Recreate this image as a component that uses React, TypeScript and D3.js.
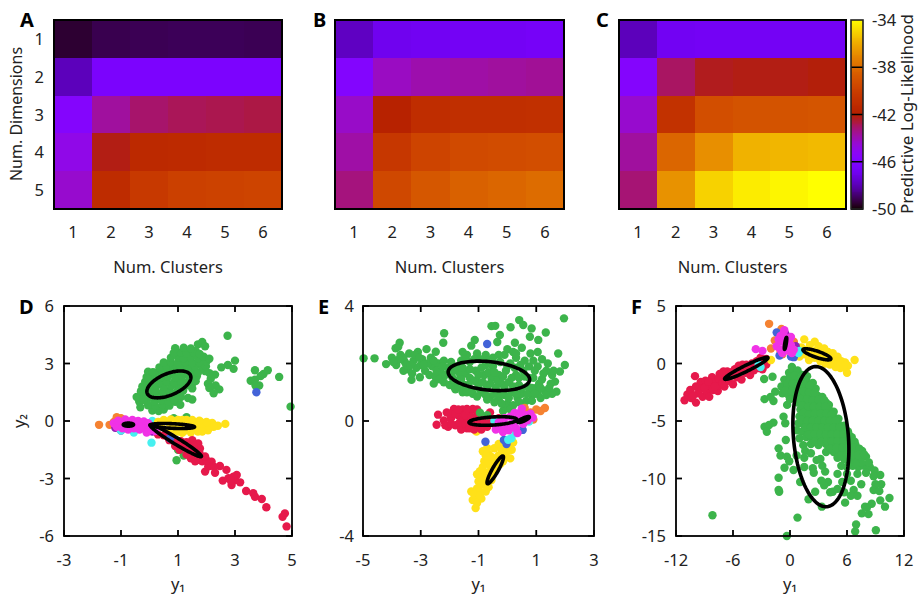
import React from "react";
import * as d3 from "d3";

type P = [number, number];

const clusterLabels = ["1", "2", "3", "4", "5", "6"];
const dimensionLabels = ["1", "2", "3", "4", "5"];

const heatA = [
  [-49.5, -49.2, -49.15, -49.1, -49.1, -49.15],
  [-47.9, -46.3, -46.2, -46.2, -46.2, -46.2],
  [-45.7, -43.7, -43.1, -42.9, -42.8, -42.7],
  [-44.9, -42.2, -41.3, -41.2, -41.1, -41.1],
  [-44.4, -41.1, -40.3, -39.9, -39.8, -39.7],
];
const heatB = [
  [-47.8, -46.9, -46.8, -46.7, -46.7, -46.6],
  [-45.8, -44.2, -43.9, -43.8, -43.7, -43.6],
  [-44.3, -41.8, -41.0, -40.9, -40.9, -40.8],
  [-43.8, -40.4, -39.7, -39.4, -39.3, -39.2],
  [-43.3, -39.5, -38.8, -38.4, -38.2, -38.0],
];
const heatC = [
  [-47.9, -46.8, -46.7, -46.7, -46.7, -46.7],
  [-45.7, -43.0, -42.3, -42.2, -42.2, -42.1],
  [-44.4, -40.7, -39.2, -39.0, -39.0, -38.9],
  [-43.7, -38.2, -36.8, -35.8, -35.7, -35.6],
  [-43.2, -36.7, -35.0, -34.4, -34.2, -34.0],
];
const colorbarLabels = [-34, -38, -42, -46, -50];

const greenD: P[] = [
  [2.74,4.45],[1.7,4.0],[1.85,4.12],[1.95,3.9],[1.62,3.65],[3.0,3.15],[2.95,2.72],[2.75,2.92],[2.52,2.8],[2.3,2.42],[2.1,2.5],[2.15,2.2],[2.05,1.95],[2.32,1.85],[2.1,1.72],[2.45,1.65],[2.25,1.45],[1.5,1.7],[1.35,1.2],[1.5,1.12],[1.1,1.25],[0.9,1.0],[1.08,0.85],
  [3.55,2.1],[3.7,2.65],[3.7,2.15],[3.9,2.35],[4.0,2.45],[4.15,2.65],[3.85,1.85],[3.72,1.85],[4.55,2.3],[4.95,0.75],[0.95,-2.05],[1.2,-1.8],[1.0,-1.5],[1.3,0.2],[0.85,0.15],
  [0.1,0.55],[0.32,0.52],[0.5,0.6],[-0.32,0.72],[-0.05,0.82],[0.2,0.78],[0.46,0.84],[0.7,0.8],[-0.36,1.02],[-0.1,1.08],[0.17,1.03],[0.41,1.08],[0.66,1.02],[0.86,1.12],
  [-0.45,1.25],[-0.2,1.32],[0.06,1.28],[0.3,1.34],[0.56,1.28],[0.8,1.35],[1.03,1.32],[-0.3,1.55],[-0.05,1.52],[0.2,1.58],[0.46,1.52],[0.7,1.58],[0.95,1.52],[1.18,1.58],
  [-0.25,1.8],[0.02,1.78],[0.25,1.84],[0.5,1.78],[0.76,1.84],[1.0,1.78],[1.25,1.83],[1.5,1.95],[-0.15,2.05],[0.1,2.08],[0.35,2.02],[0.6,2.07],[0.86,2.02],[1.1,2.08],[1.35,2.03],[1.62,2.08],
  [-0.1,2.3],[0.15,2.33],[0.4,2.28],[0.65,2.32],[0.9,2.28],[1.15,2.33],[1.4,2.28],[1.66,2.33],[-0.05,2.57],[0.2,2.52],[0.45,2.58],[0.7,2.53],[0.95,2.58],[1.2,2.53],[1.46,2.58],[1.7,2.52],[1.96,2.6],
  [0.35,2.8],[0.6,2.83],[0.86,2.78],[1.1,2.83],[1.35,2.78],[1.6,2.83],[1.85,2.8],[1.98,2.85],[0.5,3.05],[0.75,3.08],[1.0,3.03],[1.25,3.08],[1.5,3.03],[1.75,3.08],[2.0,3.1],
  [0.75,3.3],[1.0,3.34],[1.2,3.28],[1.45,3.33],[1.7,3.28],[1.9,3.36],[2.1,3.25],[0.85,3.55],[1.1,3.58],[1.3,3.52],[1.55,3.56],[1.76,3.5],[0.9,3.8],[1.2,3.82],[1.45,3.78],[0.12,2.55],[-0.05,2.2],[-0.2,1.1],
];
const redD: P[] = [
  [4.1,-4.5],[3.94,-4.07],[3.64,-3.77],[3.7,-3.95],[3.39,-3.65],[4.75,-4.82],[4.67,-5.0],[4.81,-5.5],[3.18,-3.2],[3.0,-3.08],[2.88,-3.34],[3.06,-2.82],[2.7,-2.55],[2.57,-3.11],[2.77,-2.99],[2.47,-2.35],[2.3,-2.7],[2.18,-2.12],[1.95,-2.64],[2.06,-2.38],[2.27,-2.4],[2.95,-2.9],[2.85,-3.1],
  [1.77,-2.03],[1.71,-1.17],[1.77,-1.43],[1.5,-1.0],[1.55,-1.3],[1.4,-1.55],[1.2,-1.3],[1.1,-1.05],[0.9,-1.0],[0.7,-0.8],[0.5,-0.75],[0.3,-0.7],[0.9,-1.3],[1.3,-1.75],[1.55,-1.7],[1.65,-1.95],[1.85,-2.1],[2.0,-2.05],[1.45,-1.95],[1.6,-2.1],[1.95,-1.85],[1.75,-1.65],[1.05,-1.5],[0.95,-1.2],[0.7,-1.0],[1.3,-1.1],
];
const yellowD: P[] = [
  [2.66,-0.15],[2.4,-0.25],[2.2,-0.1],[2.1,-0.35],[2.25,-0.3],[2.0,-0.15],[1.95,-0.4],[1.8,-0.05],[1.8,-0.3],[1.65,-0.45],[1.6,-0.15],[1.5,0.05],[1.45,-0.35],[1.3,-0.1],[1.25,-0.5],[1.15,0.05],[1.05,-0.25],[1.0,-0.55],[0.9,0.0],[0.8,-0.35],[0.7,-0.1],[0.6,-0.5],[0.5,0.05],[0.4,-0.25],[0.3,-0.05],[0.2,-0.3],[1.45,-0.6],[1.7,-0.55],[1.9,-0.25],[2.0,-0.05],
  [1.0,0.06],[0.75,0.08],[1.3,0.06],[1.75,0.02],[2.05,-0.48],[1.85,-0.55],[1.15,-0.62],[0.85,-0.58],
];
const orangeD: P[] = [[-1.77,-0.2],[-1.4,-0.2],[-1.25,-0.05],[-1.15,0.2],[-1.0,0.15],[-1.05,-0.1]];
const purpleD: P[] = [[-1.2,-0.35],[-1.0,-0.5],[0.1,-0.55]];
const cyanD: P[] = [[0.07,-1.13],[-1.0,-0.5],[-0.55,-0.6],[0.1,0.0],[-0.1,-0.55]];
const blueD: P[] = [[3.75,1.5],[0.72,-0.9]];
const magentaD: P[] = [
  [-1.25,-0.12],[-1.15,-0.3],[-1.1,0.02],[-0.95,-0.38],[-0.85,0.08],[-0.75,-0.45],[-0.65,-0.1],[-0.6,0.06],[-0.55,-0.38],[-0.45,-0.08],[-0.4,0.0],[-0.35,-0.45],[-0.25,-0.22],[-0.2,-0.02],[-0.1,-0.35],[-0.05,-0.12],[0.0,-0.5],[0.1,-0.3],[0.2,-0.52],[-0.85,-0.12],[-0.6,-0.25],[-0.3,-0.3],[-0.1,-0.6],
];
const ellipsesD = [
  { c: [0.68, 1.91], a: [0.76, 0.47], b: [0.14, -0.52] },
  { c: [-0.74, -0.19], a: [0.18, 0], b: [0, -0.08] },
  { c: [0.8, -0.26], a: [0.78, -0.05], b: [0.0, -0.12] },
  { c: [0.92, -1.03], a: [0.9, -0.82], b: [-0.06, -0.14] },
];

const greenE: P[] = [
  [-4.98,2.18],[-4.6,2.18],[-4.2,1.98],[-3.87,2.53],[-3.73,2.72],[-3.78,2.58],[-3.32,1.43],[-3.03,1.52],[-2.19,3.05],[-2.22,2.72],[-2.48,2.41],[1.96,3.57],[0.41,3.51],[0.55,3.34],[0.84,3.22],[1.33,3.08],[0.11,3.26],[-0.55,3.3],[-0.42,3.31],[-0.26,2.99],[0.78,2.93],[1.07,2.82],[0.26,2.72],[-1.13,2.82],[-1.25,2.62],[1.76,2.35],[1.99,1.95],[1.82,1.72],[1.7,1.02],[1.65,1.37],[-0.35,2.75],[0.0,2.5],[0.2,2.4],[0.5,2.55],[0.3,2.2],[0.8,2.35],[1.05,2.4],[-0.5,2.2],[-0.75,2.3],[-1.05,2.35],[-1.4,2.3],[-1.55,2.4],
  [-4.0,2.2],[-3.85,1.95],[-3.7,2.3],[-3.55,2.05],[-3.45,1.8],[-3.4,2.35],[-3.25,2.1],[-3.15,1.85],[-3.1,2.4],[-2.95,2.15],[-2.85,1.75],[-2.8,2.5],[-2.65,2.2],[-2.6,1.9],[-2.5,1.55],[-2.4,2.0],[-2.3,1.7],[-2.2,1.35],[-2.2,2.1],[-2.05,1.85],[-2.0,1.25],[-3.6,1.75],[-3.3,1.65],[-2.7,1.6],[-3.6,2.2],[-3.2,2.3],[-3.0,1.95],[-2.75,2.0],[-2.45,1.75],[-2.55,1.3],[-2.35,1.45],[-2.15,1.6],
  [-3.75,2.15],[-3.95,2.05],[-3.5,1.95],[-3.35,1.95],[-3.05,2.2],[-2.9,1.95],[-2.55,2.1],[-2.25,1.9],[-1.95,1.7],[-1.85,1.2],[-1.95,2.05],[-1.8,1.1],[-1.65,1.65],
  [-1.9,1.5],[-1.75,1.9],[-1.7,1.2],[-1.6,2.1],[-1.55,1.0],[-1.45,1.65],[-1.35,1.25],[-1.3,2.05],[-1.2,0.95],[-1.1,1.75],[-1.05,1.35],[-0.95,2.15],[-0.9,1.0],[-0.8,1.6],[-0.75,1.95],[-0.7,1.2],[-0.6,0.85],[-0.55,1.5],[-0.5,1.9],[-0.4,1.15],[-0.3,0.75],[-0.3,1.6],[-0.25,2.05],[-0.2,1.3],[-0.1,0.9],[-0.05,1.75],[0.0,0.6],[0.05,1.35],[0.1,2.0],[0.15,1.0],[0.2,0.55],[0.3,1.6],[0.35,0.8],[0.4,1.25],[0.45,1.95],[0.5,0.95],[0.6,1.55],[0.65,0.7],[0.7,1.2],[0.75,1.9],[0.85,0.9],[0.9,1.5],[1.0,1.15],[1.05,1.9],[1.15,0.8],[1.2,1.45],[1.3,1.05],[1.35,1.75],[1.5,1.3],[1.4,2.0],[1.55,0.95],[-1.3,1.5],[-1.6,1.45],[-0.15,0.35],[-0.05,0.45],[0.1,0.4],
  [-1.85,1.75],[-1.75,1.4],[-1.5,1.25],[-1.55,1.85],[-1.3,1.8],[-1.25,1.05],[-1.15,1.4],[-1.0,1.6],[-1.0,1.15],[-0.9,1.85],[-0.85,1.35],[-0.75,0.9],[-0.65,1.7],[-0.6,1.3],[-0.45,1.7],[-0.45,0.95],[-0.35,1.4],[-0.2,0.95],[-0.15,1.55],[-0.1,1.15],[0.0,1.9],[0.05,0.8],[0.15,1.5],[0.2,1.2],[0.25,1.85],[0.3,0.95],[0.4,1.5],[0.5,1.15],[0.55,1.75],[0.7,0.95],[0.75,1.5],[0.85,1.15],[0.95,1.75],[1.05,0.95],[1.1,1.3],[1.25,1.65],[1.2,2.15],[0.9,2.1],[0.6,2.1],[0.3,2.35],[-0.1,2.3],[-0.3,2.3],[-0.7,2.1],[-1.15,2.15],[-1.5,2.15],
  [1.55,1.6],[1.45,1.15],[1.35,0.9],[1.6,1.75],[1.15,1.15],[0.95,0.95],[0.55,0.55],[0.85,0.7],[0.4,0.65],[-0.45,0.65],[-0.7,0.75],[-0.2,0.6],[-1.05,0.85],[-1.4,1.0],
];
const redE: P[] = [
  [-2.4,0.22],[-2.45,-0.13],[-2.2,0.02],[-2.1,0.3],[-2.05,-0.2],[-1.95,0.1],[-1.85,0.42],[-1.8,-0.15],[-1.7,0.2],[-1.6,-0.3],[-1.55,0.4],[-1.5,0.05],[-1.4,-0.25],[-1.35,0.3],[-1.25,-0.05],[-1.2,0.42],[-1.15,-0.3],[-1.05,0.2],[-1.0,-0.12],[-0.9,-0.3],[-0.8,0.1],[-0.7,-0.2],[-0.55,0.05],[-0.4,-0.15],[-0.6,0.3],
  [-2.15,-0.15],[-1.95,-0.1],[-2.0,0.25],[-1.8,0.25],[-1.65,-0.05],[-1.7,0.4],[-1.45,0.2],[-1.45,-0.1],[-1.25,0.15],[-1.3,-0.25],[-1.1,0.0],[-0.95,0.05],[-0.85,-0.1],[-0.7,0.0],[-0.5,-0.05],[-1.4,0.42],[-1.05,0.4],[-0.25,-0.05],[-0.3,0.1],
];
const yellowE: P[] = [
  [-1.07,-0.37],[-1.1,-3.03],[-1.2,-2.75],[-1.1,-2.6],[-1.25,-2.45],[-1.05,-2.35],[-0.9,-2.7],[-0.95,-2.45],[-0.8,-2.2],[-0.75,-2.45],[-1.0,-2.1],[-0.85,-1.9],[-0.95,-1.75],[-0.7,-1.8],[-0.55,-2.05],[-0.6,-1.55],[-0.8,-1.4],[-0.45,-1.7],[-0.4,-1.3],[-0.65,-1.15],[-0.25,-1.5],[-0.15,-1.2],[-0.45,-0.95],[-0.05,-1.25],[-0.1,-0.95],[0.1,-1.3],[0.15,-1.0],[-0.85,-1.05],[-0.3,-0.8],[0.2,-0.75],[-1.05,-2.85],[-0.9,-2.2],
  [-1.15,-2.55],[-0.95,-2.6],[-0.75,-2.0],[-0.6,-1.8],[-0.5,-1.45],[-0.7,-1.45],[-0.55,-1.25],[-0.3,-1.2],[-0.2,-1.0],[-0.75,-1.2],[0.0,-1.05],[-0.95,-1.95],[-0.85,-1.6],[-0.65,-2.3],[-1.05,-1.85],[-0.7,-0.95],[-0.35,-1.55],[-0.15,-1.4],[0.0,-0.85],
];
const orangeE: P[] = [[1.3,0.45],[1.0,0.4],[0.8,0.3],[0.7,0.2],[0.6,0.45],[1.15,0.35],[0.9,0.05]];
const cyanE: P[] = [[0.14,-0.6],[0.03,-0.65],[0.3,-0.42],[-0.45,0.0],[0.75,-0.02]];
const blueE: P[] = [[-0.7,2.68],[-0.76,-0.72],[-0.12,-0.66],[-0.03,-0.8],[0.53,-0.31]];
const greenE2: P[] = [[-0.95,0.29],[-0.7,0.2]];
const magentaE: P[] = [
  [-0.4,-0.3],[-0.3,-0.05],[-0.2,-0.3],[-0.1,0.1],[-0.05,-0.15],[0.05,-0.32],[0.1,0.15],[0.2,-0.1],[0.25,0.28],[0.3,-0.25],[0.4,0.05],[0.45,0.3],[0.5,0.43],[0.55,-0.1],[0.65,0.2],[0.7,0.02],[0.8,0.25],[0.88,0.12],[0.35,-0.42],[-0.15,-0.38],
];
const ellipsesE = [
  { c: [-0.64, 1.57], a: [1.41, -0.15], b: [-0.06, -0.49] },
  { c: [-0.5, 0], a: [0.83, 0.05], b: [0.01, -0.14] },
  { c: [0.56, 0.05], a: [0.2, 0.09], b: [0.02, -0.05] },
  { c: [-0.42, -1.7], a: [0.27, 0.48], b: [0.09, -0.05] },
];

const greenF: P[] = [
  [-8.16,-13.2],[0.79,-13.4],[-0.33,-15],[6.86,-14.6],[6.96,-14],[9.04,-14.5],[10.47,-11.7],[10,-12.45],[9.5,-11.9],[8.6,-12.2],[8.1,-12.5],[8.26,-13.1],[7.56,-13.03],[7.9,-12.45],
  [-2.72,-1.35],[-1.84,-1.15],[-2.68,-3.1],[-1.74,-3.26],[-1.56,-2.45],[-2.05,-2.9],[-0.3,-3.6],[-0.68,-4.62],[-1.74,-5.14],[-2.68,-5.5],[-2.2,-5.35],[-2.44,-5.93],[-0.5,-5.2],[-0.44,-6.65],[-1.2,-7.38],[-1.0,-8],[-0.33,-8.1],[-0.08,-8.5],[-0.58,-9.06],[-1.2,-9.93],[-1.14,-11.15],[-1.2,-11],[0.37,-9.26],[1.07,-10.3],[2.65,-11.15],[1.95,-11.8],[3.35,-12.45],[4.23,-11.2],[4.5,-11.15],[0.2,-0.3],[-0.1,-0.8],
  [0.3,-0.7],[0.8,-0.6],[1.3,-1.0],[1.8,-1.1],[-0.6,-1.4],[0.0,-1.5],[0.6,-1.4],[1.2,-1.6],[1.8,-1.6],[2.4,-1.7],[-0.9,-2.0],[-0.3,-2.1],[0.3,-2.0],[0.9,-2.2],[1.5,-2.1],[2.1,-2.3],[2.7,-2.2],[-0.8,-2.6],[-0.1,-2.8],[0.5,-2.7],[1.1,-2.8],[1.7,-2.7],[2.3,-2.9],[2.9,-2.8],[3.4,-2.9],
  [0.8,-3.4],[1.4,-3.3],[2.0,-3.5],[2.6,-3.4],[3.2,-3.5],[3.8,-3.4],[4.1,-3.6],[1.1,-4.0],[1.7,-4.0],[2.3,-4.1],[2.9,-4.0],[3.5,-4.1],[4.1,-4.0],[4.6,-4.2],[1.0,-4.6],[1.6,-4.6],[2.2,-4.7],[2.8,-4.6],[3.4,-4.7],[4.0,-4.6],[4.6,-4.7],[5.1,-4.8],
  [0.9,-5.2],[1.5,-5.3],[2.1,-5.2],[2.7,-5.3],[3.3,-5.2],[3.9,-5.3],[4.5,-5.2],[5.1,-5.3],[5.7,-5.4],[0.7,-5.8],[1.3,-5.9],[1.9,-5.8],[2.5,-5.9],[3.1,-5.8],[3.7,-5.9],[4.3,-5.8],[4.9,-5.9],[5.5,-5.8],[6.1,-5.9],[1.0,-6.5],[1.7,-6.4],[2.3,-6.5],[2.9,-6.4],[3.5,-6.5],[4.1,-6.4],[4.7,-6.5],[5.3,-6.4],[5.9,-6.5],[6.5,-6.4],
  [1.4,-7.1],[2.2,-7.0],[3.0,-7.1],[3.8,-7.0],[4.5,-7.1],[5.1,-7.0],[5.7,-7.1],[6.3,-7.0],[6.9,-7.1],[1.6,-7.6],[2.2,-7.8],[3.8,-7.7],[4.6,-7.7],[5.2,-7.6],[5.8,-7.7],[6.4,-7.6],[7.0,-7.7],[7.6,-7.6],[0.7,-8.0],[1.5,-8.2],[2.8,-8.4],[3.2,-8.3],[5.0,-8.2],[5.7,-8.3],[6.3,-8.2],[6.9,-8.3],[7.5,-8.2],[8.0,-8.1],
  [1.5,-9.0],[2.4,-9.1],[3.4,-8.9],[3.7,-9.4],[2.5,-9.5],[5.4,-8.9],[6.0,-9.0],[6.6,-8.9],[7.2,-9.0],[7.8,-8.9],[8.4,-9.0],[8.9,-9.3],[9.5,-9.7],[8.8,-9.8],[8.0,-9.5],[7.1,-9.6],[6.0,-9.6],[5.0,-9.6],[4.0,-10.3],[3.6,-10.6],[3.3,-10.2],[5.5,-10.3],[6.4,-10.2],[7.5,-10.5],[9.6,-10.5],[9.0,-10.5],[8.8,-11],[9.4,-11.1],[6.7,-11],[6.4,-11.5],[7.1,-11.5],[5.7,-11.2],[5.8,-12.1],[5.0,-10.9],
  [0.0,-1.1],[0.5,-1.05],[1.0,-1.3],[1.55,-1.35],[-0.3,-1.75],[0.3,-1.75],[0.9,-1.85],[1.5,-1.85],[2.1,-1.95],[-0.5,-2.35],[0.2,-2.4],[0.8,-2.45],[1.4,-2.4],[2.0,-2.55],[2.6,-2.55],[0.0,-3.1],[0.6,-3.1],[1.2,-3.1],[1.8,-3.1],[2.4,-3.2],[3.0,-3.15],[3.6,-3.2],[1.3,-3.65],[1.9,-3.75],[2.5,-3.75],[3.1,-3.75],[3.7,-3.75],[1.4,-4.3],[2.0,-4.4],[2.6,-4.35],[3.2,-4.35],[3.8,-4.35],[4.4,-4.45],[1.2,-4.9],[1.8,-5.0],[2.4,-4.95],[3.0,-5.0],[3.6,-5.0],[4.2,-5.0],[4.8,-5.0],[1.6,-5.55],[2.2,-5.55],[2.8,-5.55],[3.4,-5.55],[4.0,-5.55],[4.6,-5.55],[5.2,-5.55],[5.8,-5.65],[2.0,-6.15],[2.6,-6.15],[3.2,-6.15],[3.8,-6.15],[4.4,-6.15],[5.0,-6.15],[5.6,-6.15],[6.2,-6.2],[2.6,-6.8],[3.3,-6.8],[3.9,-6.75],[4.4,-6.75],[5.0,-6.75],[5.6,-6.75],[6.2,-6.75],[6.8,-6.8],[4.3,-7.4],[4.9,-7.35],[5.5,-7.35],[6.1,-7.35],[6.7,-7.35],[7.3,-7.4],[5.4,-8.0],[6.0,-7.95],[6.6,-7.95],[7.2,-7.95],[7.8,-7.9],[8.3,-8.6],[7.5,-8.6],[6.9,-8.7],[6.2,-8.6],
];
const redF: P[] = [
  [-11.1,-3.2],[-10.8,-2.7],[-10.5,-2.3],[-10.4,-3.0],[-10.0,-1.1],[-9.9,-3.4],[-9.9,-2.0],[-9.7,-2.6],[-9.4,-1.6],[-9.3,-2.2],[-9.2,-2.9],[-8.9,-1.5],[-8.8,-2.4],[-8.5,-2.9],[-8.4,-1.9],[-8.2,-1.2],[-8.1,-2.3],[-7.8,-1.6],[-7.6,-2.4],[-7.4,-0.9],[-7.3,-1.9],[-7.0,-1.3],[-6.9,-2.0],[-6.6,-0.7],[-6.5,-1.5],[-6.2,-1.0],[-6.0,-1.8],[-5.8,-0.5],[-5.6,-1.2],[-5.3,-0.7],[-5.1,-1.4],[-5.0,-0.1],[-4.7,-0.8],[-4.5,-0.3],[-4.2,-1.0],[-4.0,0.0],[-3.8,-0.6],[-3.5,0.2],[-3.3,-0.4],[-3.1,0.5],[-2.8,0.0],[-2.9,-0.5],[-2.5,0.4],[-10.2,-2.8],[-7.0,-0.7],
  [-9.0,-2.1],[-8.6,-1.6],[-7.9,-2.0],[-7.5,-1.3],[-7.1,-1.7],[-6.4,-1.2],[-6.0,-0.7],[-5.5,-0.8],[-5.0,-0.6],[-4.6,-0.1],[-4.2,-0.4],[-3.7,0.0],[-3.3,0.1],[-5.4,-0.2],[-2.5,-0.1],
];
const yellowF: P[] = [
  [1.5,2.1],[2.6,1.9],[1.2,1.4],[2.1,1.6],[3.0,1.5],[0.6,1.2],[1.8,1.2],[2.7,1.1],[3.6,1.3],[4.0,1.0],[3.3,0.9],[4.5,0.9],[1.0,0.6],[2.4,0.7],[3.8,0.5],[5.0,0.6],[5.4,0.2],[4.6,0.3],[3.2,0.2],[4.2,-0.1],[5.8,0.1],[6.1,-0.2],[5.3,-0.4],[6.8,0.3],[6.0,-0.8],[4.8,-0.3],[-2.0,0.3],[-1.0,0.8],
  [2.2,1.1],[2.6,0.5],[3.0,0.7],[3.4,0.4],[3.7,0.0],[4.1,0.6],[4.5,0.0],[5.0,0.1],[5.3,0.0],[5.6,-0.3],[2.0,0.3],[1.5,0.8],
];
const orangeF: P[] = [[-2.2,3.45],[-0.9,3.0],[-1.6,2.0],[-2.0,1.3],[-1.0,1.1],[-0.8,0.8],[0.4,1.9]];
const blueF: P[] = [[-1.4,2.7],[-0.5,2.4],[0.1,0.6],[0.4,0.55],[-1.1,0.7]];
const purpleF: P[] = [[0.6,1.5],[-0.5,2.6]];
const cyanF: P[] = [[1.0,1.1],[-3.1,-0.3],[-3.3,-0.1],[0.9,0.9]];
const magentaF: P[] = [
  [-3.6,1.25],[-2.9,1.1],[-1.4,1.5],[-1.2,2.1],[-1.0,2.4],[-0.8,1.9],[-0.7,2.6],[-0.6,2.9],[-0.5,1.3],[-0.4,2.2],[-0.3,1.6],[-0.1,2.0],[-0.1,1.1],[0.1,1.6],[0.1,2.3],[0.4,1.2],[0.2,0.9],[-1.0,1.2],[-0.8,0.9],
];
const ellipsesF = [
  { c: [3.25, -6.36], a: [0.63, -6.09], b: [2.88, 0.2] },
  { c: [-4.6, -0.42], a: [2.28, 0.93], b: [0.14, -0.23] },
  { c: [-0.47, 1.75], a: [0.1, 0.52], b: [0.08, 0] },
  { c: [2.83, 0.8], a: [1.47, -0.41], b: [-0.1, -0.26] },
];

const GREEN = "#3cb44b", RED = "#e6194b", YELLOW = "#ffe119", ORANGE = "#f58231";
const PURPLE = "#911eb4", CYAN = "#46f0f0", BLUE = "#4363d8", MAGENTA = "#f032e6";
const FONT = "'Noto Sans', 'Open Sans', sans-serif";
const TICK = 16.5;

const gnuplot = (t: number) => {
  const u = Math.max(0, Math.min(1, t));
  const b = Math.max(0, Math.sin(2 * Math.PI * u));
  return d3.rgb(255 * Math.sqrt(u), 255 * u * u * u, 255 * b).formatHex();
};
const toUnit = d3.scaleLinear().domain([-50, -34]).range([0, 1]);

function Heat({ left, width, data, letter, letterX, yAxis }: any) {
  const top = 20, height = 189;
  const x = d3.scaleBand<string>().domain(clusterLabels).range([left, left + width]);
  const y = d3.scaleBand<string>().domain(dimensionLabels).range([top, top + height]);
  return (
    <g>
      {data.map((row: number[], r: number) =>
        row.map((v, c) => (
          <rect key={`${r}-${c}`} x={x(clusterLabels[c])} y={y(dimensionLabels[r])} width={x.bandwidth() + 0.5} height={y.bandwidth() + 0.5} fill={gnuplot(toUnit(v))} shapeRendering="crispEdges" />
        ))
      )}
      <rect x={left} y={top} width={width} height={height} fill="none" stroke="#000" strokeWidth={2} />
      {clusterLabels.map((l) => (
        <text key={l} x={x(l)! + x.bandwidth() / 2} y={238} textAnchor="middle" fontSize={TICK} fill="#222">{l}</text>
      ))}
      {yAxis && dimensionLabels.map((l) => (
        <text key={l} x={44} y={y(l)! + y.bandwidth() / 2 + 6} textAnchor="end" fontSize={TICK} fill="#222">{l}</text>
      ))}
      {yAxis && <text transform="translate(22,114) rotate(-90)" textAnchor="middle" fontSize={16} fill="#222">Num. Dimensions</text>}
      <text x={left + width / 2} y={273} textAnchor="middle" fontSize={16.5} fill="#222">Num. Clusters</text>
      <text x={letterX} y={27} fontSize={20} fontWeight={700} fill="#000">{letter}</text>
    </g>
  );
}

function Colorbar() {
  const x0 = 851, w = 12, top = 20, h = 189;
  const y = d3.scaleLinear().domain([-50, -34]).range([top + h, top]);
  const steps = d3.range(-50, -34, 0.08);
  return (
    <g>
      {steps.map((v) => (
        <rect key={v} x={x0} y={y(v + 0.08)} width={w} height={y(v) - y(v + 0.08) + 0.5} fill={gnuplot(toUnit(v))} shapeRendering="crispEdges" />
      ))}
      {[-38, -42, -46].map((v) => (
        <line key={v} x1={x0} x2={x0 + w} y1={y(v)} y2={y(v)} stroke="#000" strokeWidth={1.5} />
      ))}
      <rect x={x0} y={top} width={w} height={h} fill="none" stroke="#222" strokeWidth={1.6} />
      {colorbarLabels.map((v) => (
        <text key={v} x={872} y={y(v) + 6} fontSize={TICK} fill="#222">{v}</text>
      ))}
      <text transform="translate(913,114) rotate(-90)" textAnchor="middle" fontSize={17} fill="#222">Predictive Log-Likelihood</text>
    </g>
  );
}

function Scatter({ left, width, xd, yd, xt, yt, layers, ellipses, letter, letterX, yLabel, yTickX }: any) {
  const top = 306, height = 230;
  const x = d3.scaleLinear().domain(xd).range([left, left + width]);
  const y = d3.scaleLinear().domain(yd).range([top + height, top]);
  const angles = d3.range(0, 2 * Math.PI, Math.PI / 60);
  return (
    <g>
      {layers.map((layer: any, i: number) =>
        layer.pts.map((p: P, j: number) => (
          <circle key={`${i}-${j}`} cx={x(p[0])} cy={y(p[1])} r={4.2} fill={layer.color} />
        ))
      )}
      {ellipses.map((e: any, i: number) => {
        const pts = angles.map((t) => [
          x(e.c[0] + Math.cos(t) * e.a[0] + Math.sin(t) * e.b[0]),
          y(e.c[1] + Math.cos(t) * e.a[1] + Math.sin(t) * e.b[1]),
        ]) as [number, number][];
        return <path key={i} d={d3.line().curve(d3.curveLinearClosed)(pts)!} fill="none" stroke="#000" strokeWidth={3.6} />;
      })}
      {xt.map((t: number) => (
        <g key={t}>
          <line x1={x(t)} x2={x(t)} y1={top} y2={top + 6} stroke="#000" strokeWidth={1.8} />
          <line x1={x(t)} x2={x(t)} y1={top + height} y2={top + height - 6} stroke="#000" strokeWidth={1.8} />
          <text x={x(t)} y={566} textAnchor="middle" fontSize={TICK} fill="#222">{t}</text>
        </g>
      ))}
      {yt.map((t: number) => (
        <g key={t}>
          <line x1={left} x2={left + 6} y1={y(t)} y2={y(t)} stroke="#000" strokeWidth={1.8} />
          <line x1={left + width} x2={left + width - 6} y1={y(t)} y2={y(t)} stroke="#000" strokeWidth={1.8} />
          <text x={yTickX} y={y(t) + 6} textAnchor="end" fontSize={TICK} fill="#222">{t}</text>
        </g>
      ))}
      <rect x={left} y={top} width={width} height={height} fill="none" stroke="#000" strokeWidth={1.8} />
      <text x={left + width / 2} y={590} textAnchor="middle" fontSize={TICK} fill="#222">y₁</text>
      {yLabel && <text transform={`translate(25,${top + height / 2}) rotate(-90)`} textAnchor="middle" fontSize={TICK} fill="#222">y₂</text>}
      <text x={letterX} y={314} fontSize={20} fontWeight={700} fill="#000">{letter}</text>
    </g>
  );
}

export default function App() {
  return (
    <svg width={918} height={595} viewBox="0 0 918 595" fontFamily={FONT} style={{ position: "absolute", left: 0, top: 0, background: "#fff" }}>
      <Heat left={54} width={228} data={heatA} letter="A" letterX={20} yAxis />
      <Heat left={335} width={229} data={heatB} letter="B" letterX={313} />
      <Heat left={619} width={227} data={heatC} letter="C" letterX={596} />
      <Colorbar />
      <Scatter left={64} width={228} xd={[-3, 5]} yd={[-6, 6]} xt={[-3, -1, 1, 3, 5]} yt={[-6, -3, 0, 3, 6]} letter="D" letterX={19} yLabel yTickX={54}
        ellipses={ellipsesD}
        layers={[
          { pts: greenD, color: GREEN }, { pts: orangeD, color: ORANGE }, { pts: purpleD, color: PURPLE }, { pts: cyanD, color: CYAN },
          { pts: yellowD, color: YELLOW }, { pts: redD, color: RED }, { pts: blueD, color: BLUE }, { pts: magentaD, color: MAGENTA },
        ]} />
      <Scatter left={363} width={231} xd={[-5, 3]} yd={[-4, 4]} xt={[-5, -3, -1, 1, 3]} yt={[-4, 0, 4]} letter="E" letterX={318} yTickX={354}
        ellipses={ellipsesE}
        layers={[
          { pts: greenE, color: GREEN }, { pts: yellowE, color: YELLOW }, { pts: redE, color: RED }, { pts: greenE2, color: GREEN }, { pts: orangeE, color: ORANGE },
          { pts: blueE, color: BLUE }, { pts: cyanE, color: CYAN }, { pts: magentaE, color: MAGENTA },
        ]} />
      <Scatter left={676} width={228} xd={[-12, 12]} yd={[-15, 5]} xt={[-12, -6, 0, 6, 12]} yt={[-15, -10, -5, 0, 5]} letter="F" letterX={631} yTickX={666}
        ellipses={ellipsesF}
        layers={[
          { pts: greenF, color: GREEN }, { pts: redF, color: RED }, { pts: yellowF, color: YELLOW }, { pts: orangeF, color: ORANGE },
          { pts: blueF, color: BLUE }, { pts: purpleF, color: PURPLE }, { pts: cyanF, color: CYAN }, { pts: magentaF, color: MAGENTA },
        ]} />
    </svg>
  );
}
